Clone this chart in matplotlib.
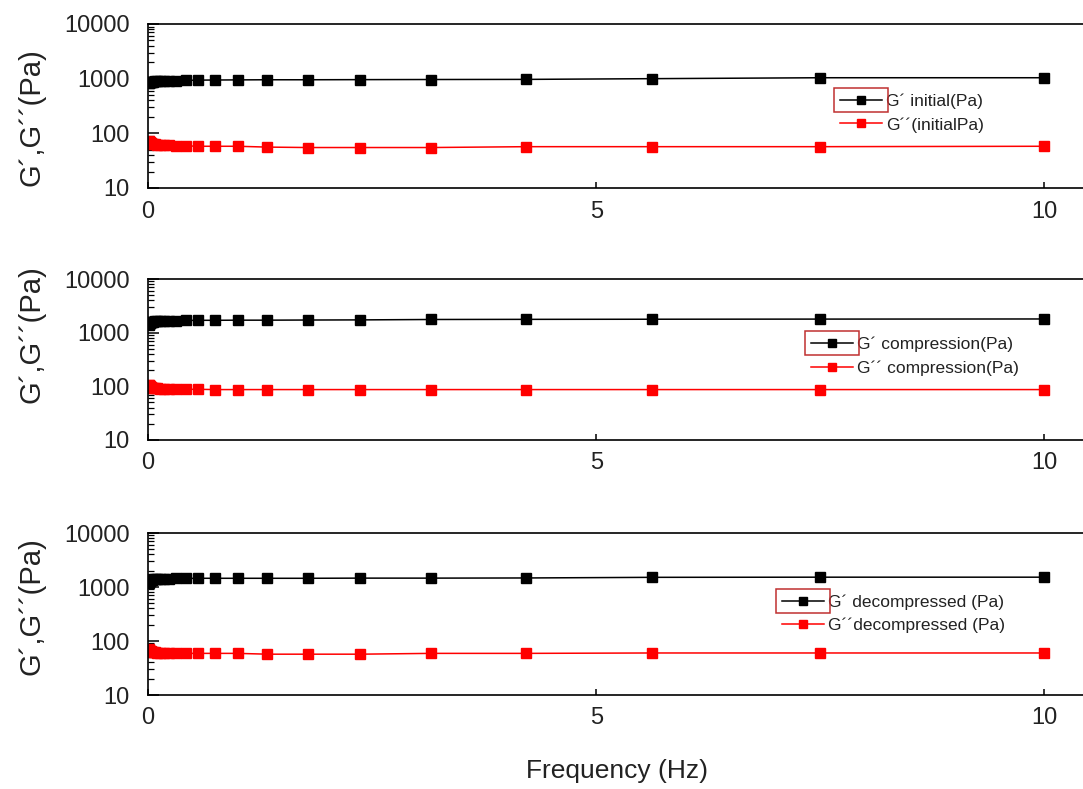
import matplotlib
matplotlib.use("Agg")
import matplotlib.pyplot as plt
from matplotlib.patches import Rectangle
from matplotlib.transforms import IdentityTransform
from matplotlib.ticker import LogLocator, NullFormatter
import numpy as np

plt.rcParams['font.family'] = ['Liberation Sans', 'DejaVu Sans']

# frequency sweep, 8 points per decade (Hz)
freq = [0.01, 0.0133, 0.0178, 0.0237, 0.0316, 0.0422, 0.0562, 0.075,
        0.1, 0.133, 0.178, 0.237, 0.316, 0.422, 0.562, 0.75,
        1.0, 1.33, 1.78, 2.37, 3.16, 4.22, 5.62, 7.5, 10.0]

# storage / loss moduli (Pa)
g1_initial = [840, 850, 860, 870, 875, 880, 885, 890, 895, 900, 905, 910, 915,
              930, 940, 945, 950, 955, 955, 960, 965, 970, 1000, 1040, 1040]
g2_initial = [72, 70, 68, 67, 66, 65, 64, 63, 62, 62, 61, 60, 59,
              59, 58, 58, 58, 56, 55, 55, 55, 57, 57, 57, 58]

g1_compression = [1400, 1450, 1500, 1530, 1560, 1590, 1610, 1630, 1640, 1650, 1660, 1670, 1680,
                  1690, 1700, 1700, 1710, 1710, 1720, 1730, 1760, 1770, 1780, 1790, 1800]
g2_compression = [108, 104, 101, 99, 97, 95, 94, 93, 92, 91, 90, 89, 88,
                  88, 88, 87, 87, 87, 87, 87, 87, 87, 87, 87, 87]

g1_decompressed = [1180, 1230, 1280, 1310, 1340, 1360, 1380, 1390, 1400, 1410, 1420, 1430, 1440,
                   1440, 1450, 1450, 1450, 1450, 1450, 1460, 1460, 1470, 1510, 1520, 1520]
g2_decompressed = [70, 68, 66, 65, 64, 63, 62, 62, 61, 61, 60, 60, 59,
                   59, 59, 59, 59, 57, 57, 57, 59, 59, 60, 60, 60]

panels = [
    (g1_initial, g2_initial, "G\u00b4 initial(Pa)", "G\u00b4\u00b4(initialPa)"),
    (g1_compression, g2_compression, "G\u00b4 compression(Pa)", "G\u00b4\u00b4 compression(Pa)"),
    (g1_decompressed, g2_decompressed, "G\u00b4 decompressed (Pa)", "G\u00b4\u00b4decompressed (Pa)"),
]

W, H = 1083, 789
fig = plt.figure(figsize=(W / 100, H / 100), dpi=100)

# axes placement in pixels: (top, bottom)
boxes = [(24, 188), (279, 440), (533, 695)]
leg_anchor = [(0.740, 0.575), (0.709, 0.64), (0.678, 0.622)]
ylab_y = [0.43, 0.66, 0.55]
left_px = 148
txt = '#222222'

legends = []
for (g1, g2, lab1, lab2), (top, bot), anc, ly in zip(panels, boxes, leg_anchor, ylab_y):
    ax = fig.add_axes([left_px / W, 1 - bot / H, 1 - left_px / W, (bot - top) / H])
    ax.plot(freq, g1, color='black', marker='s', ms=6.5, lw=1.1, label=lab1)
    ax.plot(freq, g2, color='red', marker='s', ms=6.5, lw=1.1, label=lab2)
    ax.set_yscale('log')
    ax.set_ylim(10, 10000)
    ax.set_xlim(0, 10.43)
    ax.set_xticks([0, 5, 10])
    ax.set_yticks([10, 100, 1000, 10000])
    ax.set_yticklabels(['10', '100', '1000', '10000'])
    ax.yaxis.set_minor_locator(LogLocator(base=10, subs=np.arange(2, 10), numticks=50))
    ax.yaxis.set_minor_formatter(NullFormatter())
    ax.spines['right'].set_visible(False)
    for s in ['left', 'top', 'bottom']:
        ax.spines[s].set_linewidth(1.2)
    ax.tick_params(axis='y', which='major', direction='in', length=8, width=1.1,
                   labelsize=17, pad=13, labelcolor=txt)
    ax.tick_params(axis='y', which='minor', direction='in', length=4, width=0.9)
    ax.tick_params(axis='x', which='major', direction='in', length=4, width=1.1,
                   labelsize=17, pad=9, labelcolor=txt)
    ax.set_ylabel("G\u00b4,G\u00b4\u00b4(Pa)", fontsize=21, color=txt)
    ax.yaxis.set_label_coords(-0.11, ly)
    leg = ax.legend(loc='upper left', bbox_to_anchor=anc, frameon=False,
                    fontsize=12.5, handlelength=2.4, handletextpad=0.25,
                    borderpad=0, borderaxespad=0, labelspacing=0.45, markerscale=0.9)
    for t in leg.get_texts():
        t.set_color(txt)
    legends.append(leg)

fig.text(0.57, 0.023, "Frequency (Hz)", ha='center', va='center', fontsize=19, color=txt)

# red outline around the first legend handle
fig.canvas.draw()
renderer = fig.canvas.get_renderer()
for leg in legends:
    bb = leg.legend_handles[0].get_window_extent(renderer)
    cy = (bb.y0 + bb.y1) / 2
    fig.add_artist(Rectangle((bb.x0 - 2, cy - 12), bb.width + 4, 24,
                             transform=IdentityTransform(), fill=False,
                             edgecolor='#c03030', lw=1.1))

fig.savefig("out.png", dpi=100)
